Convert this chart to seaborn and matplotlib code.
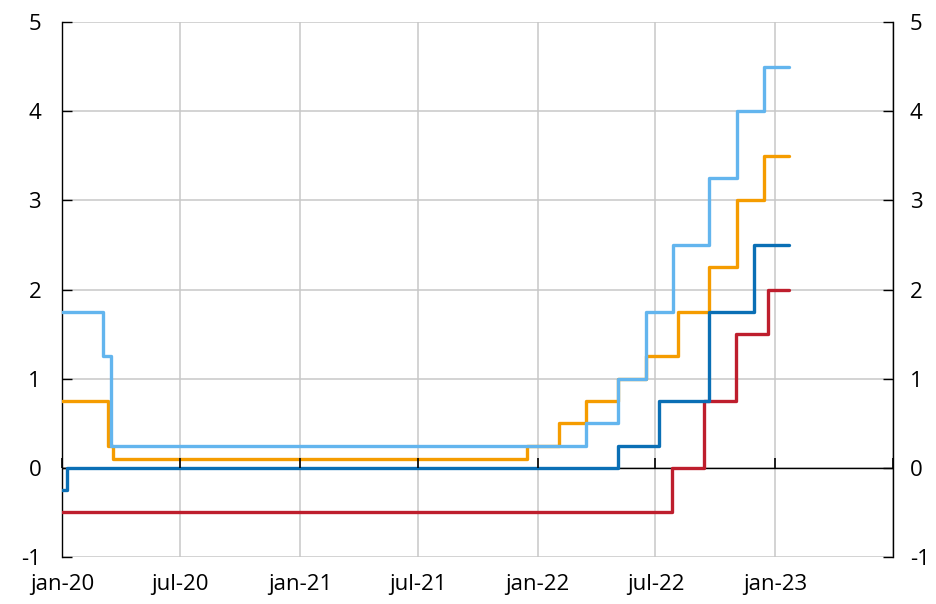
import matplotlib
matplotlib.use("Agg")
import matplotlib.pyplot as plt
import matplotlib.dates as mdates
import pandas as pd
import seaborn as sns

# ---- data ----
fed_dates = ["2020-01-01", "2020-03-04", "2020-03-16", "2022-03-17", "2022-05-05",
             "2022-06-16", "2022-07-28", "2022-09-22", "2022-11-03", "2022-12-15"]
fed_rates = [1.75, 1.25, 0.25, 0.5, 1.0, 1.75, 2.5, 3.25, 4.0, 4.5]

boe_dates = ["2020-01-01", "2020-03-11", "2020-03-19", "2021-12-16", "2022-02-03",
             "2022-03-17", "2022-05-05", "2022-06-16", "2022-08-04", "2022-09-22",
             "2022-11-03", "2022-12-15"]
boe_rates = [0.75, 0.25, 0.1, 0.25, 0.5, 0.75, 1.0, 1.25, 1.75, 2.25, 3.0, 3.5]

rb_dates = ["2020-01-01", "2020-01-08", "2022-05-04", "2022-07-06", "2022-09-21", "2022-11-30"]
rb_rates = [-0.25, 0.0, 0.25, 0.75, 1.75, 2.5]

ecb_dates = ["2020-01-01", "2022-07-27", "2022-09-14", "2022-11-02", "2022-12-21"]
ecb_rates = [-0.5, 0.0, 0.75, 1.5, 2.0]

end_date = "2023-01-22"

series_names = ["Bank of England", "Federal Reserve", "ECB", "Riksbanken"]
series_colors = ["#F59C00", "#63B5EE", "#BE1E2D", "#0A6FB5"]

xtick_dates = ["2020-01-01", "2020-07-01", "2021-01-01", "2021-07-01", "2022-01-01",
               "2022-07-01", "2023-01-01", "2023-07-01"]
xtick_labels = ["jan-20", "jul-20", "jan-21", "jul-21", "jan-22", "jul-22", "jan-23", ""]
yticks = [-1, 0, 1, 2, 3, 4, 5]

# ---- build table ----
frames = []
for name, d, r in [("Bank of England", boe_dates, boe_rates),
                   ("Federal Reserve", fed_dates, fed_rates),
                   ("ECB", ecb_dates, ecb_rates),
                   ("Riksbanken", rb_dates, rb_rates)]:
    dd = list(d) + [end_date]
    rr = list(r) + [r[-1]]
    frames.append(pd.DataFrame({"date": pd.to_datetime(dd), "rate": rr, "series": name}))
df = pd.concat(frames, ignore_index=True)

sns.set_style("white")
plt.rcParams["font.family"] = ["Open Sans", "DejaVu Sans"]

fig = plt.figure(figsize=(9.36, 6.04), dpi=100)
ax = fig.add_axes([62 / 936, 47 / 604, 831 / 936, 535 / 604])

ax.axhline(0, color="black", lw=1.0, zorder=1.5)

sns.lineplot(data=df, x="date", y="rate", hue="series", hue_order=series_names,
             palette=series_colors, drawstyle="steps-post", estimator=None,
             linewidth=2.4, legend=False, ax=ax, zorder=3)

ax.set_xlim(pd.Timestamp("2020-01-01"), pd.Timestamp("2023-07-01"))
ax.set_ylim(-1, 5)
ax.set_xlabel("")
ax.set_ylabel("")

xt = [mdates.date2num(pd.Timestamp(d)) for d in xtick_dates]
ax.set_xticks(xt)
ax.set_xticklabels(xtick_labels)
ax.set_yticks(yticks)
ax.set_yticklabels([str(v) for v in yticks])

ax.grid(True, color="#C8C8C8", lw=1.1)
ax.set_axisbelow(True)

for s in ["top", "bottom"]:
    ax.spines[s].set_visible(False)
ax.spines["left"].set_color("black")
ax.spines["left"].set_linewidth(1.0)
ax.spines["right"].set_visible(False)

ax.tick_params(axis="x", length=0, pad=12, labelsize=16, colors="black")
ax.tick_params(axis="y", direction="in", length=7, width=1, pad=15, labelsize=16,
               colors="black", left=True)

# right axis
ax2 = ax.twinx()
ax2.set_ylim(-1, 5)
ax2.set_yticks(yticks)
ax2.set_yticklabels([str(v) for v in yticks])
ax2.tick_params(axis="y", direction="in", length=7, width=1, pad=12, labelsize=16,
                colors="black", right=True)
for s in ["top", "bottom", "left"]:
    ax2.spines[s].set_visible(False)
ax2.spines["right"].set_color("black")
ax2.spines["right"].set_linewidth(1.0)
ax2.grid(False)

# tick marks on zero line
sec = ax.secondary_xaxis(1 / 6)
sec.set_zorder(5)
sec.set_xticks(xt)
sec.set_xticklabels([""] * len(xt))
sec.tick_params(axis="x", direction="in", length=7, width=1.2, color="black")
for s in sec.spines.values():
    s.set_visible(False)

fig.savefig("out.png", dpi=100)
